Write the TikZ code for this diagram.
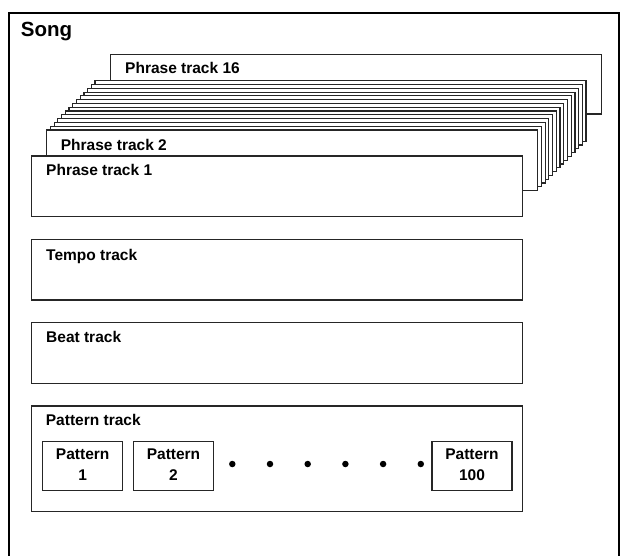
\documentclass[tikz,border=0pt]{standalone}
\usepackage{fontspec}
\setmainfont{Liberation Sans}
\begin{document}
\begin{tikzpicture}[x=1pt,y=-1pt,
  frame/.style={line width=2pt, draw=black},
  trackbox/.style={draw=black!85, line width=1.2pt, fill=white, anchor=north west,
    inner sep=0pt, outer sep=0pt, minimum width=491pt, minimum height=60.5pt},
  patbox/.style={draw=black!85, line width=1.2pt, fill=white, anchor=north west,
    inner sep=0pt, outer sep=0pt, minimum width=80pt, minimum height=49pt},
  lbl/.style={anchor=base west, inner sep=0pt, font=\fontsize{15.5}{18}\selectfont\bfseries},
  plbl/.style={anchor=base, inner sep=0pt, font=\fontsize{15.5}{18}\selectfont\bfseries},
  songlbl/.style={anchor=base west, inner sep=0pt, font=\fontsize{20.5}{24}\selectfont\bfseries},
  dotmark/.style={circle, fill=black, inner sep=0pt, minimum size=6.5pt}]
\useasboundingbox (0,0) rectangle (621,555);
\fill[white] (0,0) rectangle (621,555);
% outer frame (open at the bottom)
\draw[frame] (8.7,560) -- (8.7,12.7) -- (619.3,12.7) -- (619.3,560);
\node[songlbl] (song) at (20.7,36.7) {Song};
% phrase track stack
\node[trackbox, minimum height=59.7pt] (pt16) at (110.7,54.3) {};
\node[lbl] (l16) at (125,73.3) {Phrase track 16};
\foreach \k in {15,14,...,3}
  \node[trackbox] (pt\k) at ({46.7+(\k-2)*3.72},{130-(\k-2)*3.79}) {};
\node[trackbox] (pt2) at (46.7,130) {};
\node[lbl] (l2) at (60.7,150) {Phrase track 2};
\node[trackbox, minimum height=60.7pt] (pt1) at (31.7,156) {};
\node[lbl] (l1) at (46,175.7) {Phrase track 1};
% tempo & beat
\node[trackbox, minimum height=60.7pt] (tempo) at (31.7,239.3) {};
\node[lbl] (ltempo) at (46,260) {Tempo track};
\node[trackbox, minimum height=60.7pt] (beat) at (31.7,322.7) {};
\node[lbl] (lbeat) at (46,342.7) {Beat track};
% pattern track
\node[trackbox, minimum height=105.7pt] (pattern) at (31.7,406) {};
\node[lbl] (lpattern) at (45.7,425.7) {Pattern track};
\node[patbox] (p1) at (42.7,441.7) {};
\node[plbl] (p1a) at (82.7,459.3) {Pattern};
\node[plbl] (p1b) at (82.7,480) {1};
\node[patbox] (p2) at (133.5,441.7) {};
\node[plbl] (p2a) at (173.5,459.3) {Pattern};
\node[plbl] (p2b) at (173.5,480) {2};
\node[patbox] (p100) at (432,441.7) {};
\node[plbl] (p100a) at (472,459.3) {Pattern};
\node[plbl] (p100b) at (472,480) {100};
\foreach \i in {0,...,5}
  \node[dotmark] (d\i) at ({232.3+37.7*\i},464) {};
\end{tikzpicture}
\end{document}
